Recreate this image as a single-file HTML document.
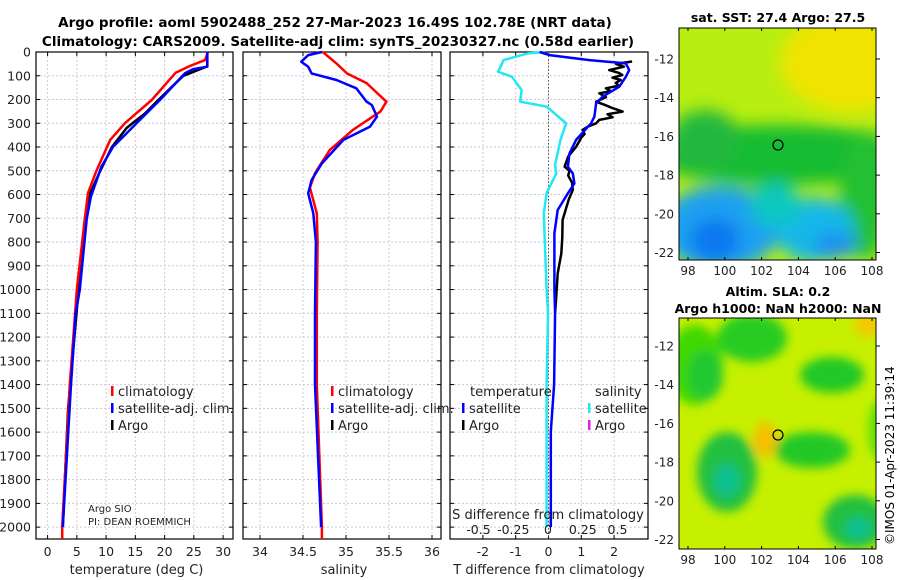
<!DOCTYPE html>
<html><head><meta charset="utf-8"><style>
body{margin:0;background:#fff;}
svg{display:block;font-family:"DejaVu Sans","Liberation Sans",sans-serif;}
</style></head><body>
<svg id="chart" width="900" height="580" viewBox="0 0 900 580">
<defs>
<filter id="blurA" x="-50%" y="-50%" width="200%" height="200%"><feGaussianBlur stdDeviation="8"/></filter>
<filter id="blurB" x="-50%" y="-50%" width="200%" height="200%"><feGaussianBlur stdDeviation="5"/></filter>
<clipPath id="clipTop"><rect x="679" y="28" width="197" height="232"/></clipPath>
<clipPath id="clipBot"><rect x="679" y="318" width="197" height="231"/></clipPath>
</defs>
<text x="335" y="27" text-anchor="middle" font-size="13.5" font-weight="bold">Argo profile: aoml 5902488_252 27-Mar-2023 16.49S 102.78E (NRT data)</text>
<text x="338" y="46" text-anchor="middle" font-size="13.5" font-weight="bold">Climatology: CARS2009. Satellite-adj clim: synTS_20230327.nc (0.58d earlier)</text>

<g id="maps">
 <g clip-path="url(#clipTop)">
  <rect x="679" y="28" width="197" height="232" fill="#b8ee10"/>
  <g filter="url(#blurA)">
   <ellipse cx="850" cy="62" rx="70" ry="50" fill="#f0e400"/>
   <ellipse cx="780" cy="155" rx="130" ry="30" fill="#18bc30"/>
   <ellipse cx="705" cy="140" rx="35" ry="30" fill="#20b840"/>
   <ellipse cx="865" cy="195" rx="25" ry="65" fill="#20c030"/>
   <ellipse cx="720" cy="228" rx="60" ry="42" fill="#1aa0f0"/>
   <ellipse cx="815" cy="230" rx="40" ry="32" fill="#18b8e8"/>
   <ellipse cx="775" cy="205" rx="25" ry="22" fill="#10c8c0"/>
   <ellipse cx="715" cy="240" rx="25" ry="22" fill="#1078f0"/>
   <ellipse cx="835" cy="245" rx="22" ry="13" fill="#1c90f0"/>
  </g>
 </g>
 <rect x="679" y="28" width="197" height="232" fill="none" stroke="#000" stroke-width="1"/>
 <g clip-path="url(#clipBot)">
  <rect x="679" y="318" width="197" height="231" fill="#c6f000"/>
  <g filter="url(#blurB)">
   <ellipse cx="695" cy="365" rx="28" ry="40" fill="#40d800"/>
   <ellipse cx="705" cy="375" rx="18" ry="25" fill="#22c830"/>
   <ellipse cx="752" cy="338" rx="35" ry="24" fill="#28cc20"/>
   <ellipse cx="832" cy="375" rx="32" ry="18" fill="#22c828"/>
   <ellipse cx="812" cy="450" rx="38" ry="18" fill="#22c828"/>
   <ellipse cx="727" cy="472" rx="30" ry="40" fill="#22c040"/>
   <ellipse cx="727" cy="480" rx="13" ry="17" fill="#10c090"/>
   <ellipse cx="855" cy="522" rx="32" ry="27" fill="#20c040"/>
   <ellipse cx="858" cy="528" rx="13" ry="11" fill="#10c090"/>
   <ellipse cx="765" cy="440" rx="12" ry="18" fill="#f4c000"/>
   <ellipse cx="868" cy="325" rx="14" ry="12" fill="#f4c800"/>
   <ellipse cx="880" cy="430" rx="12" ry="30" fill="#60e000"/>
  </g>
 </g>
 <rect x="679" y="318" width="197" height="231" fill="none" stroke="#000" stroke-width="1"/>
 <circle cx="778" cy="145" r="5" fill="none" stroke="#000" stroke-width="1.2"/>
 <circle cx="778" cy="435" r="5" fill="none" stroke="#000" stroke-width="1.2"/>
 <text x="778" y="22" text-anchor="middle" font-size="12.5" font-weight="bold">sat. SST: 27.4 Argo: 27.5</text>
 <text x="778" y="296" text-anchor="middle" font-size="12.5" font-weight="bold">Altim. SLA: 0.2</text>
 <text x="778" y="313" text-anchor="middle" font-size="12.5" font-weight="bold">Argo h1000: NaN h2000: NaN</text>
 <text transform="translate(894,545) rotate(-90)" font-size="12">©IMOS 01-Apr-2023 11:39:14</text>
</g>
<g id="plot"></g>
</svg>
<script>
// ---- data ----
const depthTicks = [0,100,200,300,400,500,600,700,800,900,1000,1100,1200,1300,1400,1500,1600,1700,1800,1900,2000];
const tempTicks = [0,5,10,15,20,25,30];
const salTicks = [34,34.5,35,35.5,36];
const tdiffTicks = [-2,-1,0,1,2];
const sdiffTicks = [-0.5,-0.25,0,0.25,0.5];
const sdiffTickLabels = ["-0.5","-0.25","0","0.25","0.5"];

const climTDepth = [0,34,59,87,202,300,370,497,594,695,1000,1100,1400,2000,2050];
const climTVal   = [27.4,26.9,24.3,21.9,17.8,13.2,10.7,8.4,6.9,6.4,5.0,4.7,3.8,2.5,2.5];
const satTDepth  = [0,62,72,89,202,300,399,483,609,700,1000,1100,1400,2000];
const satTVal    = [27.3,27.3,24.9,23.5,19.2,15.2,11.2,9.2,7.4,6.7,5.5,4.8,4.0,2.6];
const argoTDepth = [0,60,100,200,260,300,320,400,500,600,700,900,1000,1500,2000];
const argoTVal   = [27.3,27.3,23.2,19.0,16.6,14.5,13.5,11.0,9.0,7.2,6.4,5.6,5.3,3.5,2.6];

const climSDepth = [0,55,90,131,209,251,328,413,510,571,679,800,1100,1400,2000,2050];
const climSVal   = [34.73,34.91,35.01,35.24,35.47,35.40,35.08,34.81,34.64,34.58,34.66,34.67,34.66,34.66,34.72,34.72];
const satSDepth  = [0,13,41,62,90,118,153,209,223,272,314,370,469,539,595,679,800,1100,1400,2000];
const satSVal    = [34.72,34.56,34.48,34.56,34.60,34.89,35.12,35.24,35.30,35.36,35.28,34.97,34.72,34.60,34.56,34.62,34.65,34.64,34.64,34.71];

const satTdDepth = [0,13,34,48,76,104,146,188,216,272,300,370,427,483,511,553,595,665,763,1000,1100,1400,1600,2000];
const satTdVal   = [-0.27,0.03,1.25,2.36,2.46,2.36,2.16,1.65,1.45,1.40,1.30,0.84,0.64,0.59,0.74,0.79,0.59,0.28,0.18,0.18,0.20,0.17,0.07,0.07];
const argoTdDepth= [40,50,62,76,88,97,108,118,130,142,153,165,174,190,209,222,236,251,262,275,286,300,314,328,345,360,380,399,440,483,500,520,550,581,620,707,780,848,932,1044,1100];
const argoTdVal  = [2.55,2.06,2.30,1.85,2.15,2.25,1.95,2.20,2.05,2.15,1.75,1.90,1.55,1.75,1.45,1.70,1.95,2.26,1.80,1.95,1.55,1.45,1.20,1.04,1.10,1.00,0.92,0.84,0.60,0.49,0.64,0.60,0.72,0.74,0.62,0.43,0.42,0.39,0.28,0.23,0.20];
const satSdDepth = [0,5,34,48,83,104,160,209,230,300,370,476,511,594,679,1000,1100,1400,2000];
const satSdVal   = [-0.02,-0.14,-0.32,-0.33,-0.36,-0.26,-0.19,-0.20,-0.01,0.13,0.09,0.05,0.06,-0.01,-0.03,-0.01,0,-0.01,-0.01];

// ---- scales ----
const Y0=52, Y1=539, DMAX=2050;
const yD = d => Y0 + d*(Y1-Y0)/DMAX;
const xT = v => 47.6 + v*5.85;
const xS = v => 260 + (v-34)*86;
const xTd = v => 548.5 + v*32.8;
const xSd = v => 548 + v*139;

const NS='http://www.w3.org/2000/svg';
const root=document.getElementById('plot');
function mk(tag, attrs, parent){const e=document.createElementNS(NS,tag);for(const k in attrs)e.setAttribute(k,attrs[k]);(parent||root).appendChild(e);return e;}
function txt(x,y,s,size,anchor,parent){const t=mk('text',{x:x,y:y,'font-size':size,'text-anchor':anchor||'start',fill:'#222'},parent);t.textContent=s;return t;}

const panels=[
 {name:'temperature-panel',x0:36,x1:233,ticks:tempTicks,fx:xT,title:'temperature (deg C)',labels:tempTicks.map(String)},
 {name:'salinity-panel',x0:243,x1:441,ticks:salTicks,fx:xS,title:'salinity',labels:["34","34.5","35","35.5","36"]},
 {name:'difference-panel',x0:450,x1:648,ticks:tdiffTicks,fx:xTd,title:'T difference from climatology',labels:tdiffTicks.map(String)}
];
panels.forEach((p,pi)=>{
 const g=mk('g',{});
 
 
 depthTicks.forEach(d=>{
  const l=mk('line',{x1:p.x0,x2:p.x1,y1:yD(d),y2:yD(d),stroke:'#c4c8e8','stroke-width':1,'stroke-dasharray':'2,2'},g);
  
  
  mk('line',{x1:p.x0,x2:p.x0+4,y1:yD(d),y2:yD(d),stroke:'#000'},g);
  mk('line',{x1:p.x1-4,x2:p.x1,y1:yD(d),y2:yD(d),stroke:'#000'},g);
 });
 p.ticks.forEach((v,i)=>{
  const x=p.fx(v);
  const l=mk('line',{x1:x,x2:x,y1:Y0,y2:Y1,stroke:'#e0c8c8','stroke-width':1,'stroke-dasharray':'2,2'},g);
  
  
  mk('line',{x1:x,x2:x,y1:Y1-4,y2:Y1,stroke:'#000'},g);
  mk('line',{x1:x,x2:x,y1:Y0,y2:Y0+4,stroke:'#000'},g);
  const t=txt(x,556,p.labels[i],12.5,'middle',g);
  
  
 });
 mk('rect',{x:p.x0,y:Y0,width:p.x1-p.x0,height:Y1-Y0,fill:'none',stroke:'#000','stroke-width':1.2},g);
 const at=txt((p.x0+p.x1)/2+(pi==2?0:2),574,p.title,13,'middle',g);
 
 
});
depthTicks.forEach(d=>{
 const t=txt(31,yD(d)+4.5,String(d),12.5,'end');
 
 
});
const zl=mk('line',{x1:xTd(0),x2:xTd(0),y1:Y0,y2:Y1,stroke:'#556',"stroke-dasharray":'1.5,2'});



function series(dep,val,fx,color,w,name){
 const pts=dep.map((d,i)=>fx(val[i]).toFixed(1)+','+yD(d).toFixed(1)).join(' ');
 const pl=mk('polyline',{points:pts,fill:'none',stroke:color,'stroke-width':w,'stroke-linejoin':'round'});
 
 
}
series(argoTDepth,argoTVal,xT,'#000',2.5,'argo-temperature-line');
series(climTDepth,climTVal,xT,'#f00',2.5,'climatology-temperature-line');
series(satTDepth,satTVal,xT,'#00f',2.5,'satellite-temperature-line');
series(climSDepth,climSVal,xS,'#f00',2.5,'climatology-salinity-line');
series(satSDepth,satSVal,xS,'#00f',2.5,'satellite-salinity-line');
series(satSdDepth,satSdVal,xSd,'#22e8f0',2.5,'satellite-salinity-diff-line');
series(argoTdDepth,argoTdVal,xTd,'#000',2.5,'argo-temperature-diff-line');
series(satTdDepth,satTdVal,xTd,'#00f',2.5,'satellite-temperature-diff-line');

function legend(x,y,color,label,name){
 const g=mk('g',{});
 
 
 mk('rect',{x:x-1,y:y-10,width:2.5,height:10,fill:color},g);
 txt(x+6,y,label,13,'start',g);
}
legend(112,396,'#f00','climatology','legend-climatology-t');
legend(112,413,'#00f','satellite-adj. clim.','legend-satellite-t');
legend(112,430,'#000','Argo','legend-argo-t');
legend(332,396,'#f00','climatology','legend-climatology-s');
legend(332,413,'#00f','satellite-adj. clim.','legend-satellite-s');
legend(332,430,'#000','Argo','legend-argo-s');
let t1=txt(470,396,'temperature',13);


let t2=txt(595,396,'salinity',13);


legend(463,413,'#00f','satellite','legend-satellite-tdiff');
legend(463,430,'#000','Argo','legend-argo-tdiff');
legend(589,413,'#22e8f0','satellite','legend-satellite-sdiff');
legend(589,430,'#e020e0','Argo','legend-argo-sdiff');

let t3=txt(88,512,'Argo SIO',10);


let t4=txt(88,525,'PI: DEAN ROEMMICH',10);


let t5=txt(548,519,'S difference from climatology',13,'middle');


sdiffTicks.forEach((v,i)=>{
 const t=txt(xSd(v),534,sdiffTickLabels[i],12.5,'middle');
 
 
});

const mapLon=[98,100,102,104,106,108];
const mapLat=[-12,-14,-16,-18,-20,-22];
const mx = l => 688 + (l-98)*18.4;
[[28,260,59],[318,549,346]].forEach(m=>{
 const top=m[0],bot=m[1],y12=m[2];
 const my = l => y12 + (-12-l)*19.35;
 mapLon.forEach(l=>{
  mk('line',{x1:mx(l),x2:mx(l),y1:bot,y2:bot-3,stroke:'#000'});
  mk('line',{x1:mx(l),x2:mx(l),y1:top,y2:top+3,stroke:'#000'});
  const t=txt(mx(l),bot+15,String(l),12,'middle');
  
  
 });
 mapLat.forEach(l=>{
  mk('line',{x1:876,x2:880,y1:my(l),y2:my(l),stroke:'#000'});
  const t=txt(674,my(l)+4.5,String(l),12,'end');
  
  
 });
});
</script>
</body></html>
